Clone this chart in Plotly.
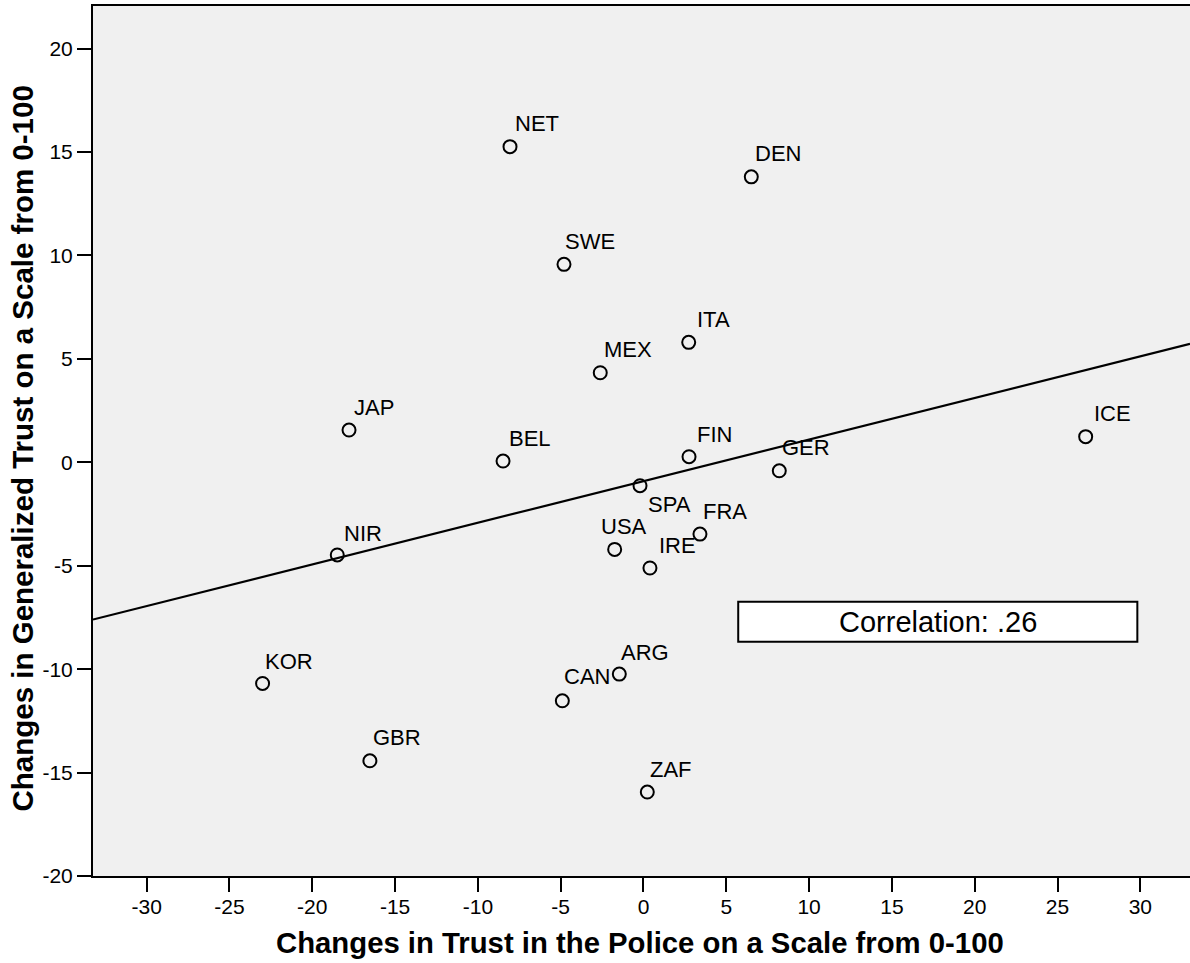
import numpy as np
import plotly.graph_objects as go

# ---- data ----
countries = ["NET", "DEN", "SWE", "ITA", "MEX", "JAP", "BEL", "FIN", "GER", "ICE",
             "SPA", "NIR", "USA", "FRA", "IRE", "KOR", "GBR", "CAN", "ARG", "ZAF"]
police_change = [-8.06, 6.51, -4.80, 2.73, -2.61, -17.78, -8.48, 2.75, 8.20, 26.70,
                 -0.21, -18.49, -1.74, 3.41, 0.39, -23.00, -16.52, -4.90, -1.46, 0.23]
trust_change = [15.26, 13.80, 9.57, 5.80, 4.33, 1.56, 0.06, 0.27, -0.41, 1.24,
                -1.13, -4.48, -4.21, -3.47, -5.11, -10.69, -14.43, -11.53, -10.24, -15.94]
x_ticks = [-30, -25, -20, -15, -10, -5, 0, 5, 10, 15, 20, 25, 30]
x_tick_labels = ["-30", "-25", "-20", "-15", "-10", "-5", "0", "5", "10", "15", "20", "25", "30"]
y_ticks = [-20, -15, -10, -5, 0, 5, 10, 15, 20]
y_tick_labels = ["-20", "-15", "-10", "-5", "0", "5", "10", "15", "20"]
correlation_text = "Correlation: .26"
x_title = "Changes in Trust in the Police on a Scale from 0-100"
y_title = "Changes in Generalized Trust on a Scale from 0-100"

# ---- styling / placement (not data) ----
FONT = "Liberation Sans, Arial, sans-serif"
X_RANGE = [-33.24, 33.0]
Y_RANGE = [-20.0, 22.06]
label_offsets = {  # pixel offsets (right, up) of each point label
    "NET": (3, 23), "DEN": (2, 23), "SWE": (-1, 23), "ITA": (6, 23), "MEX": (2, 23),
    "JAP": (3, 23), "BEL": (4, 23), "FIN": (6, 22), "GER": (1, 23), "ICE": (6, 23),
    "SPA": (6, -19), "NIR": (5, 21), "USA": (-16, 23), "FRA": (1, 23), "IRE": (7, 23),
    "KOR": (0, 22), "GBR": (1, 23), "CAN": (0, 24), "ARG": (0, 22), "ZAF": (1, 23),
}
corr_box = dict(x0=5.72, x1=29.82, y0=-8.67, y1=-6.74)

fig = go.Figure()

# fit line (least squares through the points), spanning the axis range
xs = np.array(police_change)
ys = np.array(trust_change)
slope, intercept = np.polyfit(xs, ys, 1)
line_x = np.array(X_RANGE)
fig.add_trace(go.Scatter(
    x=line_x, y=slope * line_x + intercept, mode="lines",
    line=dict(color="black", width=2.2), hoverinfo="skip", showlegend=False,
))

fig.add_trace(go.Scatter(
    x=police_change, y=trust_change, mode="markers", text=countries,
    marker=dict(symbol="circle", size=13, color="rgba(0,0,0,0)",
                line=dict(color="black", width=2)),
    showlegend=False,
))

annotations = []
for c, xv, yv in zip(countries, police_change, trust_change):
    dx, dy = label_offsets[c]
    annotations.append(dict(
        x=xv, y=yv, xref="x", yref="y", text=c, showarrow=False,
        xanchor="left", yanchor="middle", xshift=dx, yshift=dy,
        font=dict(family=FONT, size=22, color="black"),
    ))

# correlation box
fig.add_shape(type="rect", xref="x", yref="y", **corr_box,
              line=dict(color="black", width=2), fillcolor="white", layer="above")
annotations.append(dict(
    x=(corr_box["x0"] + corr_box["x1"]) / 2, y=(corr_box["y0"] + corr_box["y1"]) / 2,
    xref="x", yref="y", text=correlation_text, showarrow=False,
    xanchor="center", yanchor="middle",
    font=dict(family=FONT, size=29, color="black"),
))

# axis titles
annotations.append(dict(
    x=0.4982, y=0, xref="paper", yref="paper", yshift=-66, text=x_title,
    showarrow=False, xanchor="center", yanchor="middle",
    font=dict(family=FONT, size=29.3, color="black", weight="bold"),
))
annotations.append(dict(
    x=0, y=0.4914, xref="paper", yref="paper", xshift=-71, text=y_title,
    textangle=-90, showarrow=False, xanchor="center", yanchor="middle",
    font=dict(family=FONT, size=29.5, color="black", weight="bold"),
))

axis_common = dict(
    showgrid=False, zeroline=False, showline=True, linecolor="black", linewidth=2,
    ticks="outside", ticklen=14, tickwidth=2, tickcolor="black",
    tickfont=dict(family=FONT, size=21, color="black"),
)
fig.update_layout(
    width=1190, height=963,
    margin=dict(l=93, r=0, t=6, b=87),
    paper_bgcolor="white", plot_bgcolor="#F0F0F0",
    xaxis=dict(range=X_RANGE, tickvals=x_ticks, ticktext=x_tick_labels, mirror=True,
               ticklabelstandoff=-3, **axis_common),
    yaxis=dict(range=Y_RANGE, tickvals=y_ticks, ticktext=y_tick_labels, **axis_common),
    annotations=annotations,
    font=dict(family=FONT),
    hovermode=False,
)

fig.write_html("out.html", config={"displayModeBar": False},
               post_script="document.body.style.margin='0';")
